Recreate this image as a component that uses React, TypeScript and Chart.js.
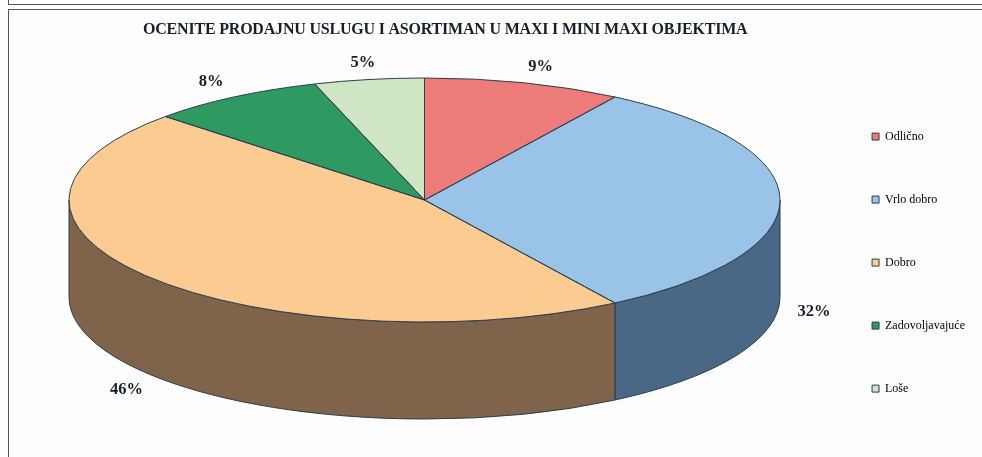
import React, { useEffect, useRef } from "react";
import { Chart, registerables } from "chart.js";

Chart.register(...registerables);

const TITLE = "OCENITE PRODAJNU USLUGU I ASORTIMAN U MAXI I MINI MAXI OBJEKTIMA";
const categories = ["Odlično", "Vrlo dobro", "Dobro", "Zadovoljavajuće", "Loše"];
const shares = [9, 32, 46, 8, 5];
const topColors = ["#EC7B79", "#9AC3E8", "#FBCB92", "#2E9A62", "#CFE5C4"];
const sideColors = ["#8A4746", "#4A6785", "#7F634A", "#1B5A39", "#7A8672"];
const labelShift = [[17, -16], [34, 112], [-24, 112], [-23, -15], [-6, -17]];

const CX = 424.5;
const CY = 200;
const RX = 355.5;
const RY = 122;
const DEPTH = 97;
const EDGE = "#2C3E4C";
const INK = "#15202A";
const SERIF = "'Liberation Serif', serif";

const pie3d = {
  id: "pie3d",
  beforeDraw(chart: any) {
    const block = chart.titleBlock;
    if (block && !block.__spaced) {
      const draw = block.draw.bind(block);
      block.draw = (...args: any[]) => {
        chart.ctx.letterSpacing = "-0.2px";
        draw(...args);
        chart.ctx.letterSpacing = "0px";
      };
      block.__spaced = true;
    }
  },
  beforeDatasetsDraw(chart: any) {
    const { ctx } = chart;
    const arcs = chart.getDatasetMeta(0).data;
    ctx.save();
    ctx.strokeStyle = EDGE;
    ctx.lineWidth = 1;
    // side walls, only the front half of the rim is visible
    arcs.forEach((arc: any, i: number) => {
      for (const turn of [0, Math.PI * 2]) {
        const a0 = Math.max(arc.startAngle + turn, 0);
        const a1 = Math.min(arc.endAngle + turn, Math.PI);
        if (a1 <= a0) continue;
        ctx.beginPath();
        ctx.ellipse(CX, CY, RX, RY, 0, a0, a1);
        ctx.ellipse(CX, CY + DEPTH, RX, RY, 0, a1, a0, true);
        ctx.closePath();
        ctx.fillStyle = sideColors[i];
        ctx.fill();
        ctx.stroke();
      }
    });
    ctx.restore();
    // the library's arcs are flattened onto the ellipse of the top face
    const first = arcs[0];
    ctx.save();
    ctx.translate(CX, CY);
    ctx.scale(RX / first.outerRadius, RY / first.outerRadius);
    ctx.translate(-first.x, -first.y);
  },
  afterDatasetsDraw(chart: any) {
    const { ctx } = chart;
    ctx.restore();
    const arcs = chart.getDatasetMeta(0).data;
    ctx.save();
    ctx.strokeStyle = EDGE;
    ctx.lineWidth = 1;
    arcs.forEach((arc: any, i: number) => {
      ctx.beginPath();
      ctx.moveTo(CX, CY);
      ctx.ellipse(CX, CY, RX, RY, 0, arc.startAngle, arc.endAngle);
      ctx.closePath();
      ctx.stroke();
      const mid = (arc.startAngle + arc.endAngle) / 2;
      ctx.font = `bold 16.5px ${SERIF}`;
      ctx.fillStyle = INK;
      ctx.textAlign = "center";
      ctx.textBaseline = "middle";
      ctx.fillText(
        `${shares[i]}%`,
        CX + RX * Math.cos(mid) + labelShift[i][0],
        CY + RY * Math.sin(mid) + labelShift[i][1],
      );
    });
    ctx.restore();
  },
};

export default function App() {
  const ref = useRef<HTMLCanvasElement>(null);
  useEffect(() => {
    const chart = new Chart(ref.current!, {
      type: "pie",
      plugins: [pie3d],
      data: {
        labels: categories,
        datasets: [{ data: shares, backgroundColor: topColors, borderWidth: 0 }],
      },
      options: {
        responsive: false,
        animation: false,
        layout: { padding: { left: 143, top: 20, bottom: 0, right: 7 } },
        plugins: {
          tooltip: { enabled: false },
          title: {
            display: true,
            text: TITLE,
            align: "start",
            color: INK,
            font: { family: SERIF, size: 16, weight: "bold" },
            padding: { top: 0, bottom: 29 },
          },
          legend: {
            position: "right",
            align: "center",
            fullSize: false,
            labels: {
              boxWidth: 7,
              boxHeight: 7,
              padding: 51,
              color: INK,
              font: { family: SERIF, size: 12 },
              generateLabels: () =>
                categories.map((text, index) => ({
                  text,
                  index,
                  fillStyle: topColors[index],
                  strokeStyle: EDGE,
                  lineWidth: 1,
                  hidden: false,
                })),
            },
          },
        },
      },
    });
    return () => chart.destroy();
  }, []);

  return (
    <div
      style={{
        position: "fixed",
        left: 0,
        top: 0,
        width: 982,
        height: 457,
        overflow: "hidden",
        background: "#FDFDFD",
      }}
    >
      <div style={{ position: "absolute", left: 8, top: -4, width: 1000, height: 7, border: "1px solid #555" }} />
      <div style={{ position: "absolute", left: 8, top: 9, width: 1000, height: 500, border: "1px solid #555" }} />
      <canvas
        ref={ref}
        width={982}
        height={457}
        style={{ position: "absolute", left: 0, top: 0, display: "block", filter: "blur(0.5px)" }}
      />
    </div>
  );
}
